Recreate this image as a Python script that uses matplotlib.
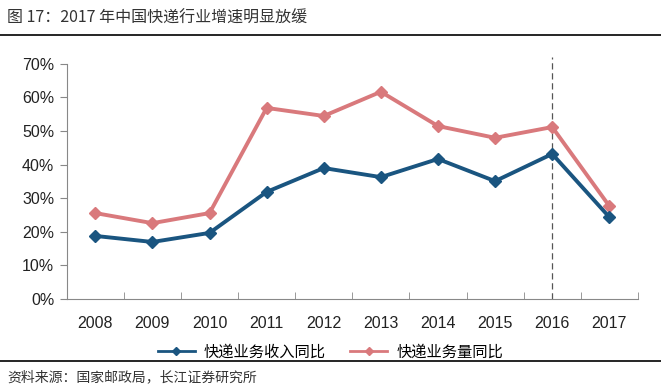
import matplotlib
matplotlib.use("Agg")
import matplotlib.pyplot as plt
from matplotlib.lines import Line2D

plt.rcParams['font.family'] = ['Liberation Sans', 'Noto Sans CJK SC', 'DejaVu Sans']

# data
years = ['2008', '2009', '2010', '2011', '2012', '2013', '2014', '2015', '2016', '2017']
revenue_yoy = [18.8, 17.0, 19.7, 31.9, 39.0, 36.3, 41.7, 35.1, 43.2, 24.4]
volume_yoy = [25.6, 22.6, 25.6, 56.9, 54.5, 61.7, 51.5, 48.0, 51.2, 27.7]

blue = '#1a5580'
pink = '#d9797c'

fig = plt.figure(figsize=(6.61, 3.92), dpi=100)
ax = fig.add_axes([0.101, 0.237, 0.864, 0.600])

x = list(range(len(years)))
ax.plot(x, [v / 100 for v in volume_yoy], color=pink, lw=2.8, marker='D', ms=6,
        label='快递业务量同比', zorder=3)
ax.plot(x, [v / 100 for v in revenue_yoy], color=blue, lw=2.8, marker='D', ms=6,
        label='快递业务收入同比', zorder=4)

# dashed marker at 2016
ax.plot([8, 8], [0, 0.72], color='#555555', lw=0.9, ls=(0, (5, 3)), clip_on=False, zorder=2)

ax.set_xlim(-0.5, 9.5)
ax.set_ylim(0, 0.70)
ax.set_yticks([i / 10 for i in range(8)])
ax.set_yticklabels([f'{i * 10}%' for i in range(8)], fontsize=11.5, color='#222222')
ax.set_xticks(x)
ax.set_xticklabels(years, fontsize=11.5, color='#222222')
ax.set_xticks([i - 0.5 for i in range(len(years) + 1)], minor=True)
ax.tick_params(axis='x', which='major', length=0, pad=12)
ax.tick_params(axis='x', which='minor', length=5, color='#888888', direction='in')
ax.tick_params(axis='y', length=5, color='#888888', direction='out', pad=4)

for s in ['top', 'right']:
    ax.spines[s].set_visible(False)
ax.spines['left'].set_color('#888888')
ax.spines['bottom'].set_color('#888888')

handles = [Line2D([], [], color=blue, lw=2, marker='D', ms=4.5),
           Line2D([], [], color=pink, lw=2, marker='D', ms=4.5)]
fig.legend(handles, ['快递业务收入同比', '快递业务量同比'], loc='center',
           bbox_to_anchor=(0.50, 0.102), ncol=2, frameon=False,
           handlelength=2.4, columnspacing=1.6, handletextpad=0.6,
           prop={'family': ['Noto Sans CJK SC', 'DejaVu Sans'], 'size': 11})

fig.text(0.011, 0.953, '图 17：2017 年中国快递行业增速明显放缓', fontsize=11.5, color='#333333',
         va='center', family=['Noto Sans CJK SC', 'DejaVu Sans'])
fig.add_artist(Line2D([0.0, 1.0], [0.911, 0.911], color='black', lw=1.2))
fig.add_artist(Line2D([0.0, 1.0], [0.079, 0.079], color='black', lw=1.2))
fig.text(0.011, 0.038, '资料来源：国家邮政局，长江证券研究所', fontsize=10, color='#333333',
         va='center', family=['Noto Sans CJK SC', 'DejaVu Sans'])

fig.savefig('out.png', dpi=100, facecolor='white')
